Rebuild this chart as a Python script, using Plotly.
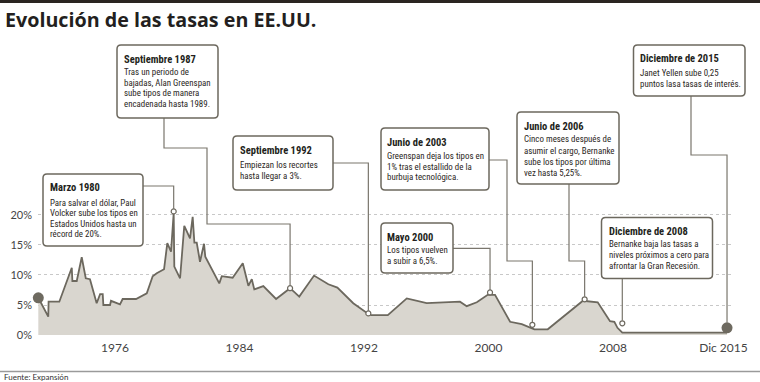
import plotly.graph_objects as go

# ---------------- data ----------------
years = [1971.07, 1971.71, 1971.73, 1972.42, 1973.22, 1973.26, 1973.54, 1973.86, 1974.12, 1974.39,
         1974.82, 1975.04, 1975.21, 1975.25, 1975.68, 1975.74, 1976.32, 1976.49, 1977.35, 1978.04,
         1978.42, 1978.68, 1979.15, 1979.36, 1979.60, 1979.77, 1979.81, 1980.18, 1980.45, 1980.82,
         1980.99, 1981.10, 1981.25, 1981.46, 1981.72, 1981.80, 1982.70, 1982.86, 1983.56, 1984.21,
         1984.57, 1984.79, 1984.95, 1985.53, 1986.35, 1987.25, 1987.84, 1988.79, 1989.71, 1990.29,
         1991.31, 1992.28, 1992.39, 1993.53, 1994.75, 1996.03, 1998.17, 1998.60, 1999.25, 1999.95,
         2000.42, 2001.39, 2002.14, 2002.95, 2003.81, 2006.07, 2007.02, 2007.81, 2008.09, 2008.29,
         2008.60, 2015.33]
rates = [6.2, 3.05, 5.55, 5.55, 11.2, 9.0, 9.0, 12.95, 9.45, 9.3,
         5.3, 6.8, 6.8, 5.0, 5.0, 5.7, 5.1, 6.0, 6.0, 6.95,
         9.8, 10.3, 10.95, 15.3, 13.9, 20.3, 11.4, 9.45, 18.2, 16.1,
         19.7, 15.4, 15.4, 12.2, 15.2, 13.05, 8.6, 9.8, 9.55, 11.95,
         8.2, 9.3, 7.6, 8.15, 6.0, 7.8, 6.4, 9.9, 8.45, 7.9,
         5.3, 3.6, 3.3, 3.3, 6.1, 5.3, 5.55, 4.8, 5.45, 6.7,
         6.7, 2.2, 1.8, 0.95, 0.95, 5.7, 5.45, 2.3, 2.2, 1.2,
         0.4, 0.4]

event_years = [1979.77, 1987.25, 1992.28, 2000.10, 2002.82, 2006.18, 2008.60]
event_rates = [20.6, 7.8, 3.6, 7.1, 1.7, 5.95, 1.95]

end_years = [1971.07, 2015.33]
end_rates = [6.2, 1.2]

tick_years = [1976, 1984, 1992, 2000, 2008, 2015.1]
tick_labels = ["1976", "1984", "1992", "2000", "2008", "Dic 2015"]
y_ticks = [0, 5, 10, 15, 20]
y_tick_labels = ["0%", "5%", "10%", "15%", "20%"]

box_titles = ["Marzo 1980", "Septiembre 1987", "Septiembre 1992", "Junio de 2003",
              "Junio de 2006", "Mayo 2000", "Diciembre de 2008", "Diciembre de 2015"]
box_texts = [
    ["Para salvar el dólar, Paul", "Volcker sube los tipos en", "Estados Unidos hasta un", "récord de 20%."],
    ["Tras un periodo de", "bajadas, Alan Greenspan", "sube tipos de manera", "encadenada hasta 1989."],
    ["Empiezan los recortes", "hasta llegar a 3%."],
    ["Greenspan deja los tipos en", "1% tras el estallido de la", "burbuja tecnológica."],
    ["Cinco meses después de", "asumir el cargo, Bernanke", "sube los tipos por última", "vez hasta 5,25%."],
    ["Los tipos vuelven", "a subir a 6,5%."],
    ["Bernanke baja las tasas a", "niveles próximos a cero para", "afrontar la Gran Recesión."],
    ["Janet Yellen sube 0,25", "puntos lasa tasas de interés."],
]

# ---------------- layout geometry (pixels) ----------------
W, H = 760, 382
ML, MR, MT, MB = 38, 28, 207, 47
PW, PH = W - ML - MR, H - MT - MB
X_RANGE = [1971.05, 2015.65]
Y_RANGE = [0, 21.33]

# box rect (x0, y0, x1, y1), text x, title y, line ys, connector waypoints, target
box_geom = [
    ((43, 174, 143, 246), 48, 187, [202.5, 213, 223.5, 234], [(143, 186)], ("ev", 0)),
    ((117, 45, 218, 118), 122, 59, [71.5, 82.5, 93, 103.5], [(164, 118), (164, 148), (207, 148), (207, 224)], ("ev", 1)),
    ((233, 136, 333, 190), 237.5, 150.5, [164.5, 175.5], [(333, 163)], ("ev", 2)),
    ((381, 128, 489, 190), 385.5, 142.5, [155.5, 166.5, 177], [(489, 160), (507, 160), (507, 261)], ("ev", 4)),
    ((517, 112, 619, 184), 522, 126, [139, 150.5, 161.5, 173], [(569, 184), (569, 261)], ("ev", 5)),
    ((381, 223, 453, 273), 385.5, 237, [250, 261], [(453, 248.3)], ("ev", 3)),
    ((601.5, 217.5, 712.5, 278.5), 606.5, 231.5, [244, 255, 266], [(622.3, 278.5)], ("ev", 6)),
    ((633.5, 45, 745, 96), 638, 58.5, [73, 83.5], [(691, 96), (691, 155)], ("end", 1)),
]

LINE_C = "#6c685e"
FILL_C = "#d9d6cf"
TXT_C = "#231f20"
BOX_FONT = "Roboto Condensed, Liberation Sans Narrow, sans-serif"


def xp(px):
    return (px - ML) / PW


def yp(py):
    return (H - MB - py) / PH


def dx(year):
    return ML + (year - X_RANGE[0]) / (X_RANGE[1] - X_RANGE[0]) * PW


def dy(v):
    return H - MB - (v - Y_RANGE[0]) / (Y_RANGE[1] - Y_RANGE[0]) * PH


fig = go.Figure()
fig.add_trace(go.Scatter(x=years, y=rates, mode="lines", fill="tozeroy",
                         fillcolor=FILL_C, line=dict(color=LINE_C, width=1.8),
                         hoverinfo="skip", cliponaxis=False))
fig.add_trace(go.Scatter(x=event_years, y=event_rates, mode="markers",
                         marker=dict(size=5, color="white", line=dict(color=LINE_C, width=1.2)),
                         cliponaxis=False, hoverinfo="skip"))
fig.add_trace(go.Scatter(x=end_years, y=end_rates, mode="markers",
                         marker=dict(size=11, color="#6e6a60"),
                         cliponaxis=False, hoverinfo="skip"))

shapes = []
annotations = []


def rounded_rect(x0, y0, x1, y1, r=4):
    rx, ry = r / PW, r / PH
    X0, X1 = xp(x0), xp(x1)
    Yt, Yb = yp(y0), yp(y1)
    return (f"M {X0+rx},{Yt} L {X1-rx},{Yt} Q {X1},{Yt} {X1},{Yt-ry} "
            f"L {X1},{Yb+ry} Q {X1},{Yb} {X1-rx},{Yb} L {X0+rx},{Yb} "
            f"Q {X0},{Yb} {X0},{Yb+ry} L {X0},{Yt-ry} Q {X0},{Yt} {X0+rx},{Yt} Z")


for i, (rect, tx, ty, lys, wps, tgt) in enumerate(box_geom):
    kind, idx = tgt
    if kind == "ev":
        ex, ey, rad = dx(event_years[idx]), dy(event_rates[idx]), 2.5
    else:
        ex, ey, rad = dx(end_years[idx]), dy(end_rates[idx]), 5
    pts = list(wps) + [(ex, wps[-1][1]), (ex, ey - rad)]
    path = "M " + " L ".join(f"{xp(a)},{yp(b)}" for a, b in pts)
    shapes.append(dict(type="path", xref="paper", yref="paper", path=path,
                       line=dict(color="#7a766d", width=1.2), layer="above"))
    shapes.append(dict(type="path", xref="paper", yref="paper",
                       path=rounded_rect(*rect), fillcolor="white",
                       line=dict(color=LINE_C, width=1.5), layer="above"))
    annotations.append(dict(x=xp(tx), y=yp(ty), xref="paper", yref="paper",
                            text=box_titles[i], showarrow=False, xanchor="left", yanchor="middle",
                            font=dict(family=BOX_FONT, size=10.5, color=TXT_C, weight="bold")))
    for line, ly in zip(box_texts[i], lys):
        annotations.append(dict(x=xp(tx), y=yp(ly), xref="paper", yref="paper",
                                text=line, showarrow=False, xanchor="left", yanchor="middle",
                                font=dict(family=BOX_FONT, size=8.9, color="#2b2724")))

# top bar, bottom rule
shapes.append(dict(type="rect", xref="paper", yref="paper", x0=xp(0), x1=xp(W),
                   y0=yp(3), y1=yp(0), fillcolor="#2a2521", line=dict(width=0), layer="above"))
shapes.append(dict(type="line", xref="paper", yref="paper", x0=xp(0), x1=xp(W),
                   y0=yp(371.5), y1=yp(371.5), line=dict(color="#9a9a9a", width=1.5), layer="above"))

annotations.append(dict(x=xp(3), y=yp(19), xref="paper", yref="paper",
                        text="Evolución de las tasas en EE.UU.", showarrow=False,
                        xanchor="left", yanchor="middle",
                        font=dict(family="Open Sans", size=19.7, color=TXT_C, weight="bold")))
annotations.append(dict(x=xp(2), y=yp(377), xref="paper", yref="paper",
                        text="Fuente: Expansión", showarrow=False,
                        xanchor="left", yanchor="middle",
                        font=dict(family="Lato", size=8, color="#333333")))

fig.update_layout(
    width=W, height=H, margin=dict(l=ML, r=MR, t=MT, b=MB, pad=0),
    paper_bgcolor="white", plot_bgcolor="white", showlegend=False,
    shapes=shapes, annotations=annotations,
    xaxis=dict(range=X_RANGE, tickvals=tick_years, ticktext=tick_labels,
               showgrid=False, zeroline=False, showline=False, ticks="",
               ticklabelstandoff=4, automargin=False,
               tickfont=dict(family="Lato", size=12, color="#444444")),
    yaxis=dict(range=Y_RANGE, tickvals=y_ticks, ticktext=y_tick_labels,
               showgrid=True, gridcolor="#c8c8c8", griddash="dot", gridwidth=1,
               zeroline=False, showline=False, ticks="", ticklabelstandoff=5, automargin=False,
               tickfont=dict(family="Lato", size=11, color="#444444")),
)

fig.write_html("out.html", config={"displayModeBar": False},
               post_script="document.body.style.margin='0';document.body.style.padding='0';")
